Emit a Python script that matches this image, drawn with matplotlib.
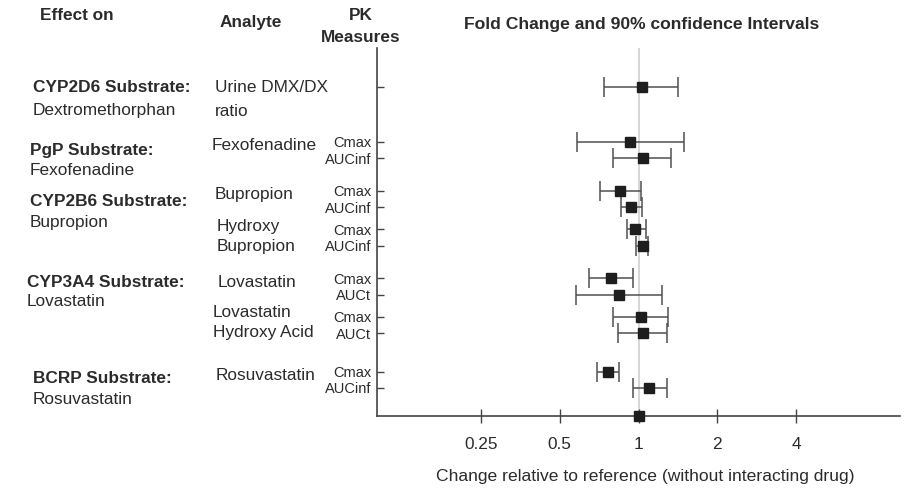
import matplotlib
matplotlib.use("Agg")
import matplotlib.pyplot as plt
import numpy as np

plt.rcParams["font.family"] = ["Liberation Sans", "DejaVu Sans"]

# PK measure per row (top to bottom); DMX/DX row has no label
pk_measures = ["", "Cmax", "AUCinf", "Cmax", "AUCinf", "Cmax", "AUCinf",
               "Cmax", "AUCt", "Cmax", "AUCt", "Cmax", "AUCinf"]
fold_change = [1.03, 0.93, 1.04, 0.85, 0.94, 0.97, 1.04,
               0.785, 0.84, 1.02, 1.04, 0.765, 1.10]
ci_lower = [0.74, 0.58, 0.80, 0.71, 0.855, 0.90, 0.98,
            0.645, 0.575, 0.80, 0.835, 0.695, 0.95]
ci_upper = [1.41, 1.49, 1.33, 1.02, 1.03, 1.07, 1.09,
            0.95, 1.23, 1.30, 1.28, 0.84, 1.29]

substrates = ["CYP2D6 Substrate:", "PgP Substrate:", "CYP2B6 Substrate:",
              "CYP3A4 Substrate:", "BCRP Substrate:"]
substrate_drugs = ["Dextromethorphan", "Fexofenadine", "Bupropion",
                   "Lovastatin", "Rosuvastatin"]
analytes = [["Urine DMX/DX", "ratio"], ["Fexofenadine"], ["Bupropion"],
            ["Hydroxy", "Bupropion"], ["Lovastatin"],
            ["Lovastatin", "Hydroxy Acid"], ["Rosuvastatin"]]

x_ticks = [0.25, 0.5, 1, 2, 4]
x_tick_labels = ["0.25", "0.5", "1", "2", "4"]

# layout (row positions in axis units, text positions in figure pixels)
row_y = [20.1, 16.75, 15.75, 13.75, 12.75, 11.4, 10.4,
         8.4, 7.4, 6.05, 5.05, 2.7, 1.7]
substrate_xy = [(33, 87), (30, 150), (30, 201), (27, 282), (33, 378)]
substrate_gap = [24, 20, 21, 20, 21]
analyte_xy = [(215, 87), (212, 145), (215, 195), (217, 226), (218, 282),
              (213, 312), (216, 375)]
analyte_gap = [24, 0, 0, 20, 0, 20, 0]

W, H = 908, 498
TEXT = "#2b2b2b"
FS = 12.4

fig = plt.figure(figsize=(W / 100, H / 100), dpi=100)
ax = fig.add_axes([377 / W, 1 - 415.7 / H, (900 - 377) / W, (415.7 - 48) / H])

ax.axvline(1, color="#cfcfcf", lw=1.2, zorder=0)

err = [np.array(fold_change) - np.array(ci_lower),
       np.array(ci_upper) - np.array(fold_change)]
ax.errorbar(fold_change, row_y, xerr=err, fmt="s", ms=6.5, color="#1e1e1e",
            ecolor="#505050", elinewidth=1.1, capsize=7.5, capthick=1.1,
            zorder=3)
# reference marker on the x axis
ax.plot([1], [0], "s", ms=6.5, color="#1e1e1e", clip_on=False, zorder=4)

ax.set_xscale("log")
ax.set_xlim(0.1, 10)
ax.set_ylim(0, 22.5)
ax.set_xticks(x_ticks)
ax.set_xticklabels(x_tick_labels, fontsize=FS, color=TEXT)
ax.xaxis.set_minor_locator(matplotlib.ticker.NullLocator())
ax.tick_params(axis="x", direction="inout", length=10, width=1, color="#444",
               pad=10)
ax.set_xlabel("Change relative to reference (without interacting drug)",
              fontsize=12.6, color=TEXT)
ax.xaxis.set_label_coords(0.513, -0.145)

ax.set_yticks(row_y)
ax.set_yticklabels(pk_measures, fontsize=10.5, color=TEXT)
ax.tick_params(axis="y", direction="in", length=5, width=1, color="#444", pad=4)

for side in ["top", "right"]:
    ax.spines[side].set_visible(False)
for side in ["left", "bottom"]:
    ax.spines[side].set_color("#444")
    ax.spines[side].set_linewidth(1.2)


def ftext(x, y, s, **kw):
    fig.text(x / W, 1 - y / H, s, color=TEXT, va="center", **kw)


ftext(40, 15, "Effect on", fontsize=FS, fontweight="bold")
ftext(220, 22, "Analyte", fontsize=FS, fontweight="bold")
ftext(361, 15, "PK", fontsize=FS, fontweight="bold", ha="center")
ftext(361, 37, "Measures", fontsize=FS, fontweight="bold", ha="center")
ftext(642, 25, "Fold Change and 90% confidence Intervals", fontsize=12.6,
      fontweight="bold", ha="center")

for (x, y), gap, name, drug in zip(substrate_xy, substrate_gap, substrates,
                                   substrate_drugs):
    ftext(x, y, name, fontsize=FS, fontweight="bold")
    ftext(x, y + gap, drug, fontsize=FS)

for (x, y), gap, lines in zip(analyte_xy, analyte_gap, analytes):
    for i, line in enumerate(lines):
        ftext(x, y + i * gap, line, fontsize=FS)

fig.savefig("out.png", dpi=100)
